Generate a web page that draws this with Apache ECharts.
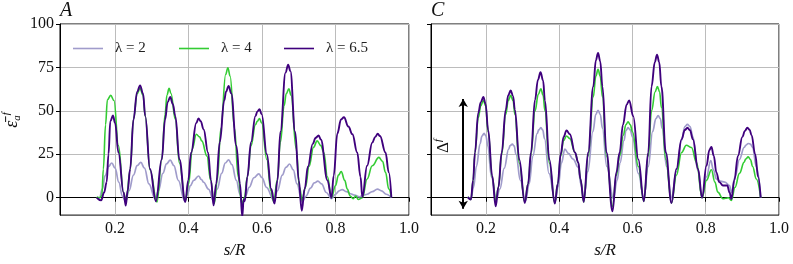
<!DOCTYPE html>
<html><head><meta charset="utf-8">
<script src="https://cdn.jsdelivr.net/npm/echarts@6/dist/echarts.min.js"></script>
<style>html,body{margin:0;padding:0;background:#fff}#c{width:793px;height:264px}</style>
</head><body><div id="c"></div>
<script>
const xTicks = [0.2, 0.4, 0.6, 0.8, 1.0];
const yTicks = [0, 25, 50, 75, 100];
const seriesNames = ['λ = 2', 'λ = 4', 'λ = 6.5'];
const panelTitles = ['A', 'C'];

// Panel A
const A_lam2 = [[0.150,0],[0.158,0],[0.165,5],[0.173,12.7],[0.182,18],[0.191,20],[0.200,17],[0.210,9],[0.220,1],[0.228,-2],[0.238,4],[0.250,13],[0.260,18.5],[0.270,20.3],[0.280,17],[0.292,8],[0.309,-0.6],[0.318,4],[0.330,14],[0.340,19.5],[0.350,21.6],[0.360,18.5],[0.372,10],[0.389,-1.5],[0.397,2],[0.405,7],[0.414,10],[0.427,12.5],[0.435,10.5],[0.441,8.9],[0.454,5],[0.468,-1.5],[0.478,5],[0.490,14],[0.500,20],[0.509,21.8],[0.518,19],[0.530,10],[0.540,2],[0.546,-4],[0.555,1],[0.565,6],[0.578,11.5],[0.591,13.7],[0.600,11.5],[0.612,6],[0.632,-1.5],[0.642,4],[0.655,13],[0.665,17.5],[0.675,19.4],[0.685,16],[0.695,8],[0.709,-2.5],[0.720,1],[0.732,5.5],[0.742,8.5],[0.752,9.5],[0.762,8],[0.775,3],[0.789,-0.5],[0.800,2],[0.810,4],[0.818,4.7],[0.830,3.5],[0.841,2.3],[0.852,1.5],[0.865,0.5],[0.876,1.5],[0.886,2],[0.900,3.5],[0.914,5],[0.925,4],[0.938,2],[0.952,0]];
const A_lam4 = [[0.150,0.5],[0.158,0],[0.164,1.3],[0.168,16.5],[0.174,42],[0.179,56.4],[0.188,58.9],[0.197,56],[0.209,30],[0.223,3],[0.230,-2],[0.241,16],[0.250,45],[0.260,60],[0.268,63],[0.276,59],[0.282,47],[0.295,16],[0.314,-2.5],[0.327,22],[0.336,48],[0.341,59],[0.347,63],[0.352,60],[0.364,45],[0.375,20],[0.391,-2],[0.400,8],[0.410,28],[0.421,36.5],[0.430,35],[0.436,32.7],[0.450,24],[0.460,10],[0.470,-3.4],[0.478,10],[0.488,40],[0.501,71],[0.507,74.8],[0.513,70],[0.525,40],[0.535,12],[0.545,-3.4],[0.552,0],[0.560,12],[0.570,30],[0.582,42],[0.587,44],[0.593,45.6],[0.599,43],[0.613,22],[0.624,4],[0.632,-2.5],[0.641,10],[0.650,32],[0.660,53],[0.666,60],[0.673,62.7],[0.679,59],[0.693,28],[0.702,6],[0.709,-1.5],[0.718,6],[0.728,18],[0.740,29],[0.750,32.7],[0.760,30],[0.768,26],[0.778,12],[0.789,0],[0.800,7],[0.808,13],[0.8155,15],[0.825,10],[0.832,5],[0.840,1],[0.848,-0.6],[0.855,1],[0.862,-1],[0.873,0],[0.886,10.8],[0.900,18.4],[0.918,23.2],[0.928,21],[0.936,14.6],[0.945,5],[0.952,0]];
const A_lam65 = [[0.150,0],[0.162,-1.5],[0.170,3],[0.177,9],[0.182,25],[0.187,44],[0.194,47.3],[0.200,43],[0.209,26],[0.223,3],[0.229,-4.5],[0.234,4],[0.241,16.5],[0.250,45],[0.260,61],[0.268,64.6],[0.276,60],[0.282,47],[0.295,16.5],[0.311,-2],[0.327,22],[0.336,45],[0.343,55],[0.350,58],[0.357,54],[0.364,47],[0.375,22],[0.391,-2.5],[0.399,10],[0.407,26],[0.421,43],[0.427,45.6],[0.433,44],[0.441,39.3],[0.453,26],[0.461,10],[0.468,-4.4],[0.475,8],[0.485,32],[0.497,56],[0.502,61],[0.509,64.4],[0.516,60],[0.530,30],[0.540,8],[0.546,-11],[0.550,-1],[0.553,-2],[0.560,12],[0.570,32],[0.582,47],[0.587,49.5],[0.593,51],[0.599,48],[0.613,25],[0.625,5],[0.634,-3.4],[0.642,10],[0.650,38],[0.664,72],[0.671,76.6],[0.677,73],[0.690,38],[0.700,10],[0.708,-7.5],[0.716,5],[0.725,18],[0.738,31],[0.746,34.5],[0.754,35.9],[0.760,33.5],[0.778,10],[0.789,0],[0.795,12.7],[0.805,37],[0.815,45],[0.823,46.3],[0.835,41],[0.846,36.5],[0.859,26],[0.868,12],[0.873,0.4],[0.886,18.4],[0.900,31.7],[0.908,35],[0.915,36.8],[0.921,35.5],[0.936,26],[0.945,14.6],[0.952,0]];

// Panel C
const C_lam2 = [[0.150,0.4],[0.159,-0.5],[0.166,6],[0.174,18],[0.184,31],[0.189,35.5],[0.195,37],[0.200,35.5],[0.205,30],[0.215,12],[0.228,-1],[0.238,5],[0.250,17],[0.262,28],[0.266,30],[0.272,30.8],[0.277,29.8],[0.282,25],[0.294,10],[0.308,-2],[0.318,8],[0.328,24],[0.340,37],[0.344,39],[0.350,40.3],[0.355,39],[0.360,34],[0.372,14],[0.389,-2],[0.397,6],[0.406,20],[0.4155,28],[0.425,25.5],[0.438,22.2],[0.452,17.5],[0.459,8],[0.467,0],[0.478,15],[0.492,38],[0.500,48],[0.506,50.3],[0.512,48],[0.518,40],[0.530,18],[0.548,-0.5],[0.558,10],[0.566,20],[0.577,33],[0.582,38.5],[0.588,40.3],[0.594,39],[0.600,35],[0.616,14],[0.631,0],[0.643,18],[0.655,38],[0.664,45.5],[0.670,47.3],[0.676,45.5],[0.681,40],[0.693,18],[0.7065,0],[0.720,15],[0.734,33],[0.743,41],[0.750,42.2],[0.757,41],[0.765,35],[0.778,16],[0.790,0],[0.802,12],[0.8136,21.3],[0.821,16],[0.829,10.8],[0.840,9.5],[0.852,9],[0.865,7],[0.870,3],[0.880,12],[0.892,22],[0.905,29],[0.910,30.3],[0.916,31.2],[0.922,30.8],[0.928,29],[0.938,18],[0.950,0]];
const C_lam4 = [[0.150,0.4],[0.159,-1],[0.165,10],[0.170,26],[0.179,46],[0.186,53],[0.193,56],[0.199,53],[0.206,38],[0.217,12],[0.227,-2],[0.234,6],[0.243,25],[0.254,48],[0.261,56],[0.2674,58.9],[0.274,56],[0.279,48],[0.291,20],[0.306,-2.5],[0.315,8],[0.323,25],[0.334,50],[0.343,59.5],[0.350,62.7],[0.356,59],[0.361,50],[0.373,20],[0.388,-3],[0.396,8],[0.404,24],[0.412,33],[0.420,35.5],[0.429,34],[0.443,26],[0.452,20.3],[0.458,10.8],[0.467,-2.5],[0.479,24],[0.493,58],[0.500,70],[0.506,73.9],[0.512,70],[0.518,58],[0.529,24],[0.5455,-5],[0.556,13],[0.565,24],[0.575,36],[0.582,42],[0.588,43.7],[0.594,42],[0.600,38],[0.616,18],[0.631,-2],[0.643,24],[0.652,50],[0.662,61],[0.668,64],[0.674,61],[0.679,52],[0.691,22],[0.7065,-3],[0.720,13],[0.734,26],[0.747,30.2],[0.761,28.9],[0.775,20.3],[0.790,0],[0.802,10],[0.8155,16.1],[0.825,9],[0.833,3.2],[0.847,-0.6],[0.855,-0.3],[0.862,0],[0.870,-1.5],[0.880,6],[0.892,14],[0.905,20.5],[0.909,22.3],[0.916,23.5],[0.922,22],[0.928,18],[0.938,10.8],[0.950,0]];
const C_lam65 = [[0.150,0.4],[0.159,-1],[0.165,10],[0.170,26],[0.179,48.8],[0.186,55],[0.193,58],[0.199,54],[0.206,39],[0.217,12.7],[0.2265,-5],[0.234,6],[0.243,26],[0.254,50.7],[0.261,59],[0.2674,61.7],[0.274,58.5],[0.279,50.7],[0.291,22],[0.306,-3],[0.315,8],[0.323,26],[0.334,56.4],[0.342,68],[0.349,72.2],[0.356,67.5],[0.361,56],[0.373,22],[0.388,-3.4],[0.396,8],[0.404,25],[0.412,35],[0.420,38.7],[0.429,36.5],[0.443,26],[0.452,20.3],[0.458,10.8],[0.467,-2.5],[0.479,26],[0.493,64],[0.500,79],[0.506,83.4],[0.512,78.5],[0.518,64],[0.529,26],[0.5455,-7.8],[0.556,14.6],[0.565,26],[0.574,42],[0.584,53.6],[0.591,56],[0.602,47],[0.616,22],[0.631,-2],[0.643,26],[0.652,64],[0.661,78],[0.667,82.4],[0.673,78],[0.679,64],[0.691,26],[0.7065,-3],[0.720,16.5],[0.734,33.6],[0.743,39],[0.750,40.3],[0.757,38.8],[0.765,33.6],[0.779,16.5],[0.790,0],[0.802,18.4],[0.810,27.5],[0.8155,29.3],[0.822,24],[0.829,14.6],[0.837,9],[0.847,7],[0.859,7],[0.865,3],[0.870,-0.8],[0.878,10],[0.888,24],[0.900,35],[0.907,38.5],[0.9137,40.3],[0.920,39],[0.925,36],[0.935,25],[0.943,12],[0.950,0]];

// Double arrow (Δ^f) in panel C, in data coordinates
const arrowX = [0.138, 0.138];
const arrowY = [56.8, -6.3];

const colors = ['#a09ccb', '#33cc33', '#3f007d'];
const widths = [1.7, 1.6, 1.9];
const serif = 'Liberation Serif';

const chart = echarts.init(document.getElementById('c'), null, {renderer: 'canvas'});

function xAxisCfg(gi) {
  return {
    type: 'value', gridIndex: gi, min: 0.05, max: 1.0,
    name: 's/R', nameLocation: 'middle', nameGap: 26,
    nameTextStyle: {fontFamily: serif, fontStyle: 'italic', fontSize: 17, color: '#111'},
    axisLine: {show: true, lineStyle: {color: '#000', width: 1}},
    axisTick: {show: true, length: 4, lineStyle: {color: '#000'}, customValues: xTicks},
    axisLabel: {fontFamily: serif, fontSize: 16, color: '#111', margin: 6, customValues: xTicks,
      formatter: v => v.toFixed(1)},
    splitLine: {show: true, lineStyle: {color: '#bcbcbc', width: 1}}
  };
}
function yAxisCfg(gi, showLabels) {
  return {
    type: 'value', gridIndex: gi, min: -10, max: 100,
    axisLine: {show: true, lineStyle: {color: '#000', width: 1}},
    axisTick: {show: true, length: 4, lineStyle: {color: '#000'}, customValues: yTicks},
    axisLabel: {show: showLabels, fontFamily: serif, fontSize: 16, color: '#111', margin: 6, customValues: yTicks},
    splitLine: {show: true, lineStyle: {color: '#bcbcbc', width: 1}}
  };
}

const panels = [[A_lam2, A_lam4, A_lam65], [C_lam2, C_lam4, C_lam65]];
const series = [];
panels.forEach((sets, gi) => {
  sets.forEach((d, si) => {
    const s = {
      name: seriesNames[si], type: 'line', xAxisIndex: gi, yAxisIndex: gi,
      data: d, symbol: 'none', smooth: 0.4, smoothMonotone: 'x',
      lineStyle: {color: colors[si], width: widths[si]}, itemStyle: {color: colors[si]},
      z: 2 + si, silent: true
    };
    if (gi === 1 && si === 2) {
      s.markLine = {
        silent: true, symbol: ['arrow', 'arrow'], symbolSize: [7, 8],
        label: {show: false},
        lineStyle: {color: '#000', width: 2, type: 'solid'},
        data: [[{coord: [arrowX[0], arrowY[0]]}, {coord: [arrowX[1], arrowY[1]]}]]
      };
    }
    series.push(s);
  });
});

const legendLeft = [73, 179, 284];
const legends = seriesNames.map((n, i) => ({
  data: [n], left: legendLeft[i], top: 41, padding: 0,
  icon: 'rect', itemWidth: 30, itemHeight: 1.6,
  textStyle: {fontFamily: serif, fontSize: 15, color: '#222', padding: [0, 0, 0, 7]},
  selectedMode: false
}));

chart.setOption({
  animation: false,
  backgroundColor: '#fff',
  title: [
    {text: panelTitles[0], left: 60, top: 1, padding: 0, textStyle: {fontFamily: serif, fontStyle: 'italic', fontWeight: 'normal', fontSize: 20, color: '#111'}},
    {text: panelTitles[1], left: 431, top: 1, padding: 0, textStyle: {fontFamily: serif, fontStyle: 'italic', fontWeight: 'normal', fontSize: 20, color: '#111'}}
  ],
  legend: legends,
  grid: [
    {left: 60, right: 384, top: 24, bottom: 48, show: true, borderColor: '#000', borderWidth: 1, backgroundColor: 'transparent'},
    {left: 431, right: 14, top: 24, bottom: 48, show: true, borderColor: '#000', borderWidth: 1, backgroundColor: 'transparent'}
  ],
  xAxis: [xAxisCfg(0), xAxisCfg(1)],
  yAxis: [yAxisCfg(0, true), yAxisCfg(1, false)],
  series: series,
  graphic: [
    {type: 'text', x: 12, y: 120, rotation: Math.PI / 2,
      style: {text: '{e|ε̄}{b|a}{t|f}', align: 'center', verticalAlign: 'middle',
        rich: {
          e: {fontFamily: serif, fontStyle: 'italic', fontSize: 18, lineHeight: 22, fill: '#111'},
          b: {fontFamily: serif, fontStyle: 'italic', fontSize: 11, lineHeight: 12, verticalAlign: 'bottom', fill: '#111'},
          t: {fontFamily: serif, fontStyle: 'italic', fontSize: 11, lineHeight: 12, verticalAlign: 'top', fill: '#111'}
        }}},
    {type: 'text', x: 444, y: 146, rotation: Math.PI / 2,
      style: {text: '{e|Δ}{t|f}', align: 'center', verticalAlign: 'middle',
        rich: {
          e: {fontFamily: serif, fontSize: 17, lineHeight: 22, fill: '#111'},
          t: {fontFamily: serif, fontStyle: 'italic', fontSize: 11, lineHeight: 12, verticalAlign: 'top', fill: '#111'}
        }}}
  ]
});
</script></body></html>
